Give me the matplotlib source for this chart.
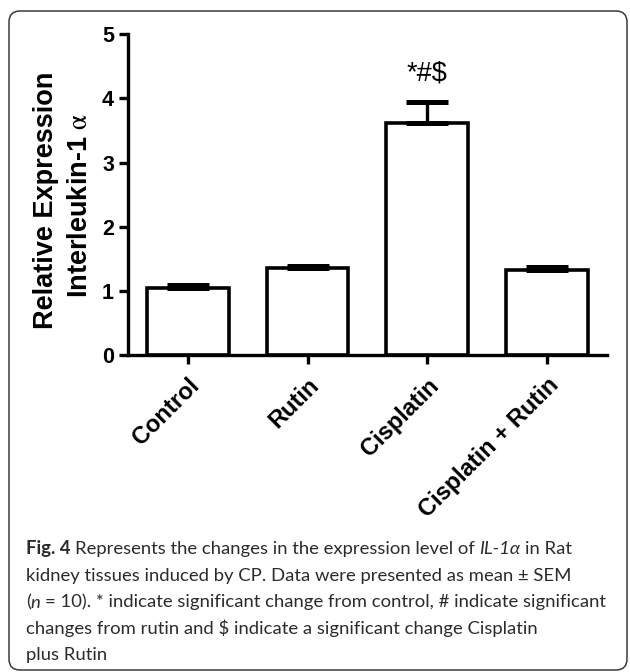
import numpy as np
import matplotlib
matplotlib.use("Agg")
import matplotlib.pyplot as plt
from matplotlib.patches import FancyBboxPatch
from matplotlib.transforms import IdentityTransform, ScaledTranslation

# ---- data -------------------------------------------------------------
groups = ["Control", "Rutin", "Cisplatin", "Cisplatin + Rutin"]
means = [1.04, 1.35, 3.62, 1.33]
sems = [0.05, 0.04, 0.32, 0.04]
y_ticks = [0, 1, 2, 3, 4, 5]
sig_group = "Cisplatin"
sig_label = "*#$"

ylabel_line1 = "Relative Expression"
ylabel_line2 = r"Interleukin-1 $\mathrm{\alpha}$"

caption_lines = [
    [("Fig. 4", "bold"), (" Represents the changes in the expression level of ", "normal"),
     ("IL-1α", "italic"), (" in Rat", "normal")],
    [("kidney tissues induced by CP. Data were presented as mean ± SEM", "normal")],
    [("(", "normal"), ("n", "italic"),
     (" = 10). * indicate significant change from control, # indicate significant", "normal")],
    [("changes from rutin and $ indicate a significant change Cisplatin", "normal")],
    [("plus Rutin", "normal")],
]

# ---- figure -----------------------------------------------------------
W, H = 630, 672
plt.rcParams["font.family"] = ["Liberation Sans", "DejaVu Sans"]
plt.rcParams["mathtext.fontset"] = "stix"

fig = plt.figure(figsize=(W / 100, H / 100), dpi=100)
fig.patch.set_facecolor("white")

# rounded frame around the whole panel
frame = FancyBboxPatch((9, 2), 618, 659,
                       boxstyle="round,pad=0,rounding_size=11",
                       transform=IdentityTransform(), fill=False,
                       edgecolor="#3a3a3a", linewidth=1.1)
fig.patches.append(frame)

ax = fig.add_axes([128 / W, 1 - 355 / H, (606.7 - 128) / W, (355 - 34.3) / H])

x = np.arange(len(groups))
lw = 2.4
ax.bar(x, means, width=0.68, color="white", edgecolor="black",
       linewidth=2.6, zorder=2)
ax.errorbar(x, means, yerr=[np.zeros(len(sems)), sems], fmt="none",
            ecolor="black", elinewidth=2.4, capsize=15, capthick=3.6, zorder=3)

ax.set_xlim(-0.5, 3.5)
ax.set_ylim(0, 5)
for side in ("top", "right"):
    ax.spines[side].set_visible(False)
for side in ("left", "bottom"):
    ax.spines[side].set_linewidth(lw)

ax.set_yticks(y_ticks)
ax.set_yticklabels([str(t) for t in y_ticks], fontsize=15.5, fontweight="bold")
ax.set_xticks(x)
ax.set_xticklabels(groups, fontsize=17, fontweight="bold", rotation=45,
                   ha="right", va="top", rotation_mode="anchor")
ax.tick_params(axis="both", width=lw, length=6.5, pad=3.5)
ax.tick_params(axis="x", pad=7)

# significance marks above the error bar
i = groups.index(sig_group)
ax.text(x[i], means[i] + sems[i], sig_label, fontsize=19.5, ha="center",
        va="baseline", parse_math=False,
        transform=ax.transData + ScaledTranslation(0, 16 / 72, fig.dpi_scale_trans))

# y-axis title, two centred lines
fig.text(46 / W, 1 - 200 / H, ylabel_line1, rotation=90, ha="center", va="center",
         fontsize=19.5, fontweight="bold")
fig.text(80 / W, 1 - 205 / H, ylabel_line2, rotation=90, ha="center", va="center",
         fontsize=19.5, fontweight="bold")

# ---- caption ----------------------------------------------------------
renderer = fig.canvas.get_renderer()
cap_family = ["Liberation Sans Narrow", "Lato", "DejaVu Sans"]
cap_color = "#2b2b2b"


def make_text(s, style, size, xp=0, yp=0):
    return fig.text(xp / W, yp / H, s, fontsize=size, family=cap_family,
                    fontweight="bold" if style == "bold" else "normal",
                    fontstyle="italic" if style == "italic" else "normal",
                    color=cap_color, ha="left", va="baseline", parse_math=False)


def width_of(s, style, size):
    t = make_text(s, style, size)
    w = t.get_window_extent(renderer).width
    t.remove()
    return w


def space_width(size):
    return width_of("x x", "normal", size) - width_of("xx", "normal", size)


def split(s):
    core = s.strip(" ")
    return len(s) - len(s.lstrip(" ")), core, len(s) - len(s.rstrip(" "))


def line_width(segments, size):
    sw = space_width(size)
    total = 0.0
    for s, style in segments:
        lead, core, trail = split(s)
        total += lead * sw + (width_of(core, style, size) if core else 0) + trail * sw
    return total


# size chosen so that the longest caption line spans the panel width
target = 605 - 25.7
cap_size = 10 * target / line_width(caption_lines[2], 10)

baselines = [554, 581, 607.5, 634, 660]
sw = space_width(cap_size)
for segs, yb in zip(caption_lines, baselines):
    xp = 25.7
    for s, style in segs:
        lead, core, trail = split(s)
        xp += lead * sw
        if core:
            t = make_text(core, style, cap_size, xp, H - yb)
            xp = t.get_window_extent(renderer).x1
        xp += trail * sw

fig.savefig("out.png", dpi=100)
